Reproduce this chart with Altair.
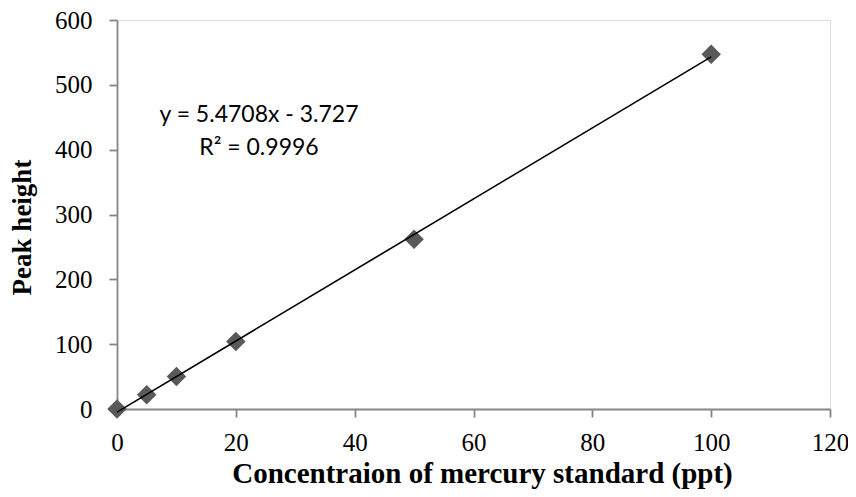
import altair as alt
import pandas as pd

# Data
concentration = [0, 5, 10, 20, 50, 100]
peak_height = [0, 22, 50, 104, 262, 547]
equation_text = ["y = 5.4708x - 3.727", "R\u00b2 = 0.9996"]

x_ticks = [0, 20, 40, 60, 80, 100, 120]
y_ticks = [0, 100, 200, 300, 400, 500, 600]

df = pd.DataFrame({"x": concentration, "y": peak_height})

AXIS_GRAY = "#868686"
SERIF = "Liberation Serif"

x_enc = alt.X(
    "x:Q",
    scale=alt.Scale(domain=[0, 120], nice=False, zero=False),
    axis=alt.Axis(
        values=x_ticks,
        title="Concentraion of mercury standard (ppt)",
        grid=False,
        domainColor=AXIS_GRAY,
        domainWidth=1.8,
        tickColor=AXIS_GRAY,
        tickWidth=1.8,
        tickSize=8,
        labelFont=SERIF,
        labelFontSize=25,
        labelColor="black",
        labelPadding=13,
        titleFont=SERIF,
        titleFontSize=29,
        titleFontWeight="bold",
        titleColor="black",
        titleX=365,
        titleY=73,
        titleAlign="center",
        titleBaseline="alphabetic",
        labelFlush=False,
    ),
)
y_enc = alt.Y(
    "y:Q",
    scale=alt.Scale(domain=[0, 600], nice=False, zero=False),
    axis=alt.Axis(
        values=y_ticks,
        title="Peak height",
        grid=False,
        domainColor=AXIS_GRAY,
        domainWidth=1.8,
        tickColor=AXIS_GRAY,
        tickWidth=1.8,
        tickSize=8,
        labelFont=SERIF,
        labelFontSize=25,
        labelColor="black",
        labelPadding=17,
        titleFont=SERIF,
        titleFontSize=27,
        titleFontWeight="bold",
        titleColor="black",
        titleX=-95,
        titleY=207,
        titleAlign="center",
        titleBaseline="middle",
        labelFlush=False,
    ),
)

base = alt.Chart(df)

trend = base.transform_regression("x", "y", extent=[0, 100]).mark_line(
    color="black", strokeWidth=1.6, clip=False
).encode(x=x_enc, y=y_enc)

points = base.mark_point(
    shape="diamond", filled=True, color="#595959", size=380, opacity=1
).encode(x=x_enc, y=y_enc)

eq = alt.Chart(pd.DataFrame({"t": ["\n".join(equation_text)]})).mark_text(
    font="Lato", fontSize=23, color="black", align="center", baseline="middle",
    lineBreak="\n", lineHeight=33
).encode(x=alt.value(142), y=alt.value(95), text="t:N")

chart = (
    alt.layer(points, trend, eq)
    .properties(
        width=713,
        height=389,
        autosize=alt.AutoSizeParams(type="none"),
        padding={"left": 109, "top": 12, "right": 18, "bottom": 80},
    )
    .configure_view(stroke=None)
    .configure(background="white")
)

chart.save("out.html", embed_options={"renderer": "svg", "actions": False})
